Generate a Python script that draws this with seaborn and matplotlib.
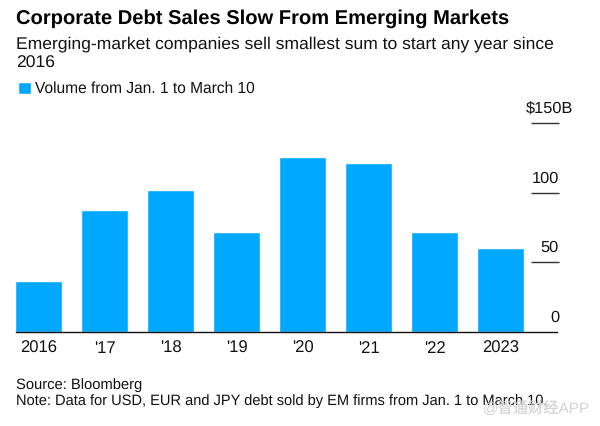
import matplotlib
matplotlib.use("Agg")
import matplotlib.pyplot as plt
from matplotlib.transforms import ScaledTranslation
import seaborn as sns

years = ["2016", "'17", "'18", "'19", "'20", "'21", "'22", "2023"]
volume = [37, 88, 102, 71.7, 125.5, 121.7, 71.7, 60.7]
y_ticks = [0, 50, 100, 150]
y_labels = ["0", "50", "100", "$150B"]
series_name = "Volume from Jan. 1 to March 10"
BLUE = "#00A8FF"
INK = "#111111"

sns.set_theme(style="white")
plt.rcParams["font.family"] = ["Liberation Sans", "Noto Sans CJK SC", "DejaVu Sans"]
plt.rcParams["text.hinting"] = "none"

W, H = 600, 426
fig = plt.figure(figsize=(W / 100, H / 100), dpi=100)
ax = fig.add_axes([15.5 / W, 1 - 332 / H, 543.5 / W, 210 / H])
sns.barplot(x=years, y=volume, color=BLUE, saturation=1, width=0.7, ax=ax, label=series_name)
ax.set_xlim(-23 / 66, 520.5 / 66)
ax.set_ylim(0, 151)
sns.despine(ax=ax, left=True, right=True, top=True)
ax.spines["bottom"].set_color("#111111")
ax.spines["bottom"].set_linewidth(1.0)
ax.spines["bottom"].set_bounds(-23 / 66, 518.5 / 66)

ax.yaxis.tick_right()
ax.set_yticks(y_ticks, y_labels)
ax.tick_params(axis="y", direction="in", length=20, width=1.0, color="#333333", pad=0,
               labelsize=11.8, labelcolor=INK)
ax.yaxis.get_major_ticks()[0].tick2line.set_visible(False)
for lab, txt in zip(ax.get_yticklabels(), y_labels):
    dx = 14 / 100 if txt.endswith("B") else 0
    lab.set_ha("right")
    lab.set_va("bottom")
    lab.set_transform(lab.get_transform() + ScaledTranslation(dx, 5.2 / 72, fig.dpi_scale_trans))

ax.tick_params(axis="x", length=0, pad=6, labelsize=12.0, labelcolor=INK)
ax.set_xlabel("")
ax.set_ylabel("")

fig.text(16 / W, 1 - 24 / H, "Corporate Debt Sales Slow From Emerging Markets",
         fontsize=14.5, fontweight="bold", color="#000000", va="baseline")
fig.text(16 / W, 1 - 48 / H, "Emerging-market companies sell smallest sum to start any year since",
         fontsize=12.6, color=INK, va="baseline")
fig.text(16 / W, 1 - 68 / H, "2016", fontsize=12.6, color=INK, va="baseline")

ax.legend(loc="center left", bbox_to_anchor=(17.5 / W, 1 - 89 / H), bbox_transform=fig.transFigure,
          frameon=False, fontsize=11.2, handlelength=0.85, handleheight=0.85, handletextpad=0.25,
          borderpad=0, borderaxespad=0, labelcolor=INK)

fig.text(16 / W, 1 - 389 / H, "Source: Bloomberg", fontsize=10.6, color=INK, va="baseline")
fig.text(16 / W, 1 - 405 / H, "Note: Data for USD, EUR and JPY debt sold by EM firms from Jan. 1 to March 10.",
         fontsize=10.53, color=INK, va="baseline")
fig.text(590 / W, 1 - 412.5 / H, "@智通财经APP", fontsize=11, color="#d4d4d4", ha="right", va="baseline")

fig.savefig("out.png", dpi=100)
